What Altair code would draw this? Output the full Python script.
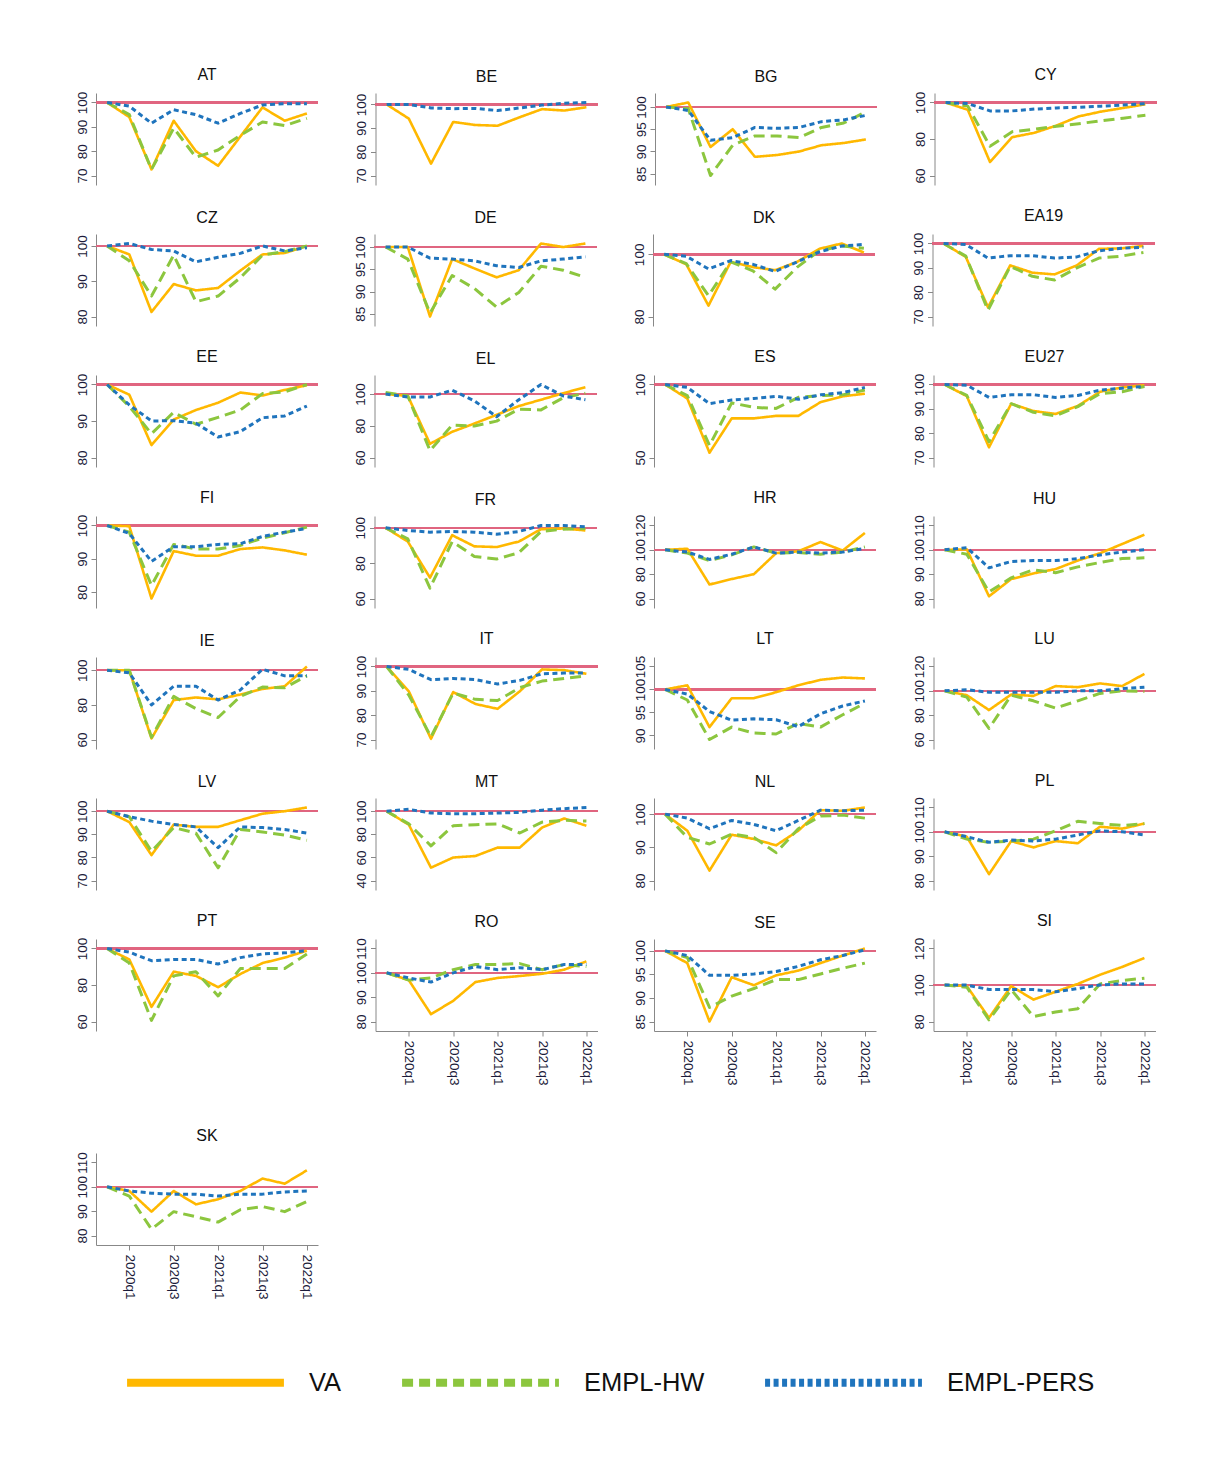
import altair as alt
import pandas as pd

QUARTERS = ["2019q4", "2020q1", "2020q2", "2020q3", "2020q4",
            "2021q1", "2021q2", "2021q3", "2021q4", "2022q1"]
XLABELS = ["2020q1", "2020q3", "2021q1", "2021q3", "2022q1"]

COUNTRIES = ["AT", "BE", "BG", "CY", "CZ", "DE", "DK", "EA19", "EE", "EL",
             "ES", "EU27", "FI", "FR", "HR", "HU", "IE", "IT", "LT", "LU",
             "LV", "MT", "NL", "PL", "PT", "RO", "SE", "SI", "SK"]

VA = {
    "AT": [100, 94, 72.5, 92.5, 80, 74, 86, 98, 92.5, 95.5],
    "BE": [100, 94, 75, 92.6, 91.3, 91, 94.6, 98, 97.4, 98.8],
    "BG": [100, 101, 91, 95, 88.8, 89.2, 90, 91.4, 91.9, 92.7],
    "CY": [100, 96, 67.4, 81, 83.4, 87.4, 92.4, 95, 97, 99],
    "CZ": [100, 97.6, 81.3, 89.2, 87.4, 88.1, 93, 97.6, 98, 100],
    "DE": [100, 100, 84.4, 97.3, 95.2, 93.2, 94.8, 100.8, 100, 100.8],
    "DK": [100, 96.8, 83.5, 97.6, 95.9, 94.9, 97.6, 101.8, 103.5, 100.6],
    "EA19": [100, 94.5, 73.8, 91, 88, 87.3, 91, 97.8, 98, 99],
    "EE": [100, 97.2, 83.4, 90.4, 93, 95, 97.8, 97, 98.5, 99.8],
    "EL": [100, 98.8, 68.6, 76.2, 81.4, 86.9, 92.4, 96.4, 100.5, 104.3],
    "ES": [100, 90.4, 53.3, 76.8, 76.8, 78.5, 78.5, 87.9, 91.9, 93.7],
    "EU27": [100, 95.2, 74.2, 92.1, 89.1, 87.9, 91.2, 97, 98.8, 99.7],
    "FI": [100, 99.8, 78, 92.3, 90.9, 90.9, 92.9, 93.4, 92.5, 91.2],
    "FR": [100, 92.2, 71.8, 95.8, 89.5, 89.1, 92.2, 99.2, 99.6, 98.5],
    "HR": [100, 100.9, 71.5, 76, 80, 97.3, 98.8, 106.4, 99.4, 113.9],
    "HU": [100, 100.2, 80.9, 88, 90.3, 92.1, 95.6, 98.6, 102.4, 106.2],
    "IE": [100, 100, 60.6, 82.8, 84.3, 83.2, 86, 89.2, 90.8, 102.2],
    "IT": [100, 89.8, 70.3, 89.5, 84.6, 82.6, 89.8, 98.8, 98.5, 97],
    "LT": [100, 100.9, 91.8, 98.1, 98.1, 99.4, 100.9, 102.1, 102.6, 102.4],
    "LU": [100, 96.4, 84.2, 97, 95.8, 103.9, 103, 106.1, 103.9, 113.9],
    "LV": [100, 95.3, 81, 94.2, 93.2, 93.2, 96.1, 98.9, 100, 101.6],
    "MT": [100, 88.3, 51.1, 59.9, 61.2, 68.5, 68.5, 85.8, 93.7, 87.4],
    "NL": [100, 95, 83, 93.8, 92.5, 90.6, 95, 101.2, 101, 102],
    "PL": [100, 98, 82.6, 96.2, 93.6, 96.2, 95.3, 102.1, 101.3, 103.4],
    "PT": [100, 94, 68, 87.3, 85, 78.8, 86, 92, 95, 98.8],
    "RO": [100, 97, 83, 88.5, 96.2, 97.9, 98.7, 99.6, 101.3, 104.7],
    "SE": [100, 97.4, 85, 94.4, 92.7, 94.8, 95.8, 97.4, 99, 100.5],
    "SI": [100, 99.4, 82, 99.4, 92, 96.3, 100.6, 105.6, 109.9, 114.8],
    "SK": [100, 98.3, 89.8, 98.3, 92.8, 94.9, 98.3, 103.4, 101.3, 106.8],
}

EMPL_HW = {
    "AT": [100, 95, 72.5, 89.5, 77.5, 80.5, 86.5, 92, 90.5, 93.5],
    "BG": [100, 99.6, 84.6, 91.4, 93.5, 93.5, 93.1, 95.4, 96.4, 98.9],
    "CY": [100, 98, 76, 84, 85.4, 87, 88.4, 90, 91.4, 93],
    "CZ": [100, 95.8, 85.8, 97.4, 84.2, 85.8, 91, 97.4, 98.4, 100],
    "DE": [100, 97.3, 85.2, 93.6, 90.7, 86.5, 89.8, 95.7, 94.8, 93.2],
    "DK": [100, 97, 86.7, 97.6, 94.7, 88.8, 95.9, 101.2, 102.7, 102],
    "EA19": [100, 94.8, 72.6, 90.6, 86.5, 85, 90, 94, 94.8, 96.3],
    "EE": [100, 94, 86.5, 92.4, 89.1, 91, 93, 97.5, 98, 100],
    "EL": [101, 98.8, 64.3, 80.5, 79.8, 82.9, 90.5, 90, 97.6, 100.5],
    "ES": [100, 92.4, 58.3, 87.4, 84.3, 83.6, 91.2, 92.4, 92.9, 96.2],
    "EU27": [100, 95.5, 76.5, 92.1, 88.6, 87.1, 90.9, 96.2, 97, 99.2],
    "FI": [100, 98, 81.9, 94.3, 92.9, 92.9, 94, 96.2, 97.8, 99.5],
    "FR": [100, 93.7, 65.9, 92.2, 83.8, 82.3, 85.9, 97.9, 99.2, 99.6],
    "HR": [100, 97.3, 91.2, 95.8, 102.4, 97.3, 97.9, 96.4, 98.2, 102.4],
    "HU": [100, 98.2, 82.7, 88.5, 91.8, 90.6, 93, 94.8, 96.4, 96.7],
    "IE": [100, 100, 61.3, 84.9, 77.8, 72.7, 84.9, 90.3, 89.9, 96.8],
    "IT": [100, 88.3, 71.1, 89.1, 86.5, 86, 91.3, 94, 95.1, 96.1],
    "LT": [100, 97.7, 89.1, 91.8, 90.5, 90.3, 92.6, 91.8, 94.5, 97],
    "LU": [100, 94.8, 69.1, 96.4, 91.8, 85.8, 91.8, 97.9, 100, 99.4],
    "LV": [100, 97.6, 82.6, 92.9, 90.5, 75.5, 92.1, 91, 89.7, 87.4],
    "MT": [100, 89, 70, 87.4, 88.3, 89, 81.1, 90.5, 92.1, 91.5],
    "NL": [100, 93, 91, 94, 93, 88.4, 95.6, 99.4, 99.7, 98.8],
    "PL": [100, 97, 95.7, 96.2, 97, 100.4, 104.3, 103.4, 102.6, 103.4],
    "PT": [100, 92, 60.6, 85, 87.3, 74, 89, 89, 89, 97],
    "RO": [100, 97, 97.9, 101.3, 103.4, 103.4, 103.8, 101.3, 103.4, 102.6],
    "SE": [100, 98.6, 88, 90.4, 92, 93.9, 93.9, 95.1, 96.3, 97.4],
    "SI": [100, 98.8, 80.9, 97.5, 82.7, 85.2, 87, 100.6, 102.5, 103.7],
    "SK": [100, 96.2, 82.6, 89.8, 87.7, 85.5, 90.6, 91.9, 89.8, 94],
}

EMPL_PERS = {
    "AT": [100, 98.5, 91.5, 97, 95, 91.5, 95.5, 99, 99.5, 99.5],
    "BE": [100, 100, 98.5, 98.2, 98.3, 97.4, 98.5, 99.7, 100.5, 100.8],
    "BG": [100, 99.2, 92.5, 93.1, 95.4, 95.2, 95.4, 96.7, 97.1, 98.1],
    "CY": [100, 99.4, 95.4, 95.4, 96.4, 97, 97.4, 98, 98.6, 99.4],
    "CZ": [100, 100.7, 99, 98.6, 95.5, 96.8, 97.9, 100, 98.6, 99.5],
    "DE": [100, 100, 97.5, 97.3, 96.9, 95.8, 95.4, 96.9, 97.3, 97.8],
    "DK": [100, 99.4, 95.3, 98, 96.8, 94.5, 97.6, 100.8, 102.7, 103.2],
    "EA19": [100, 99.6, 94, 95, 95, 94, 94.5, 97, 98, 98.5],
    "EE": [100, 94.4, 90, 90.1, 89.4, 85.6, 87.1, 90.9, 91.4, 94.1],
    "EL": [100, 98.1, 98.1, 102.4, 95.7, 85.7, 96.4, 106, 98.8, 96.4],
    "ES": [100, 98, 86.9, 89.4, 90.4, 91.9, 89.9, 92.9, 94.4, 98],
    "EU27": [100, 99.7, 94.7, 95.8, 95.8, 94.7, 95.5, 97.7, 98.5, 99.2],
    "FI": [100, 97.6, 89.2, 93.6, 93.6, 94.3, 94.5, 96.7, 98, 99.1],
    "FR": [100, 98.5, 97.5, 97.9, 97.5, 96.4, 97.9, 101.3, 101.3, 100.6],
    "HR": [100, 98.2, 92.1, 96.4, 102.4, 97.3, 98.2, 97.3, 98.2, 101.2],
    "HU": [100, 100.9, 92.6, 95.2, 95.6, 95.6, 96.4, 97.9, 99.1, 100],
    "IE": [100, 98.5, 80, 90.8, 90.8, 82.8, 88.6, 100.6, 96.8, 96.8],
    "IT": [100, 98.8, 94.6, 95.1, 94.6, 92.8, 94.3, 97, 97.3, 97.3],
    "LT": [100, 99, 95.2, 93.3, 93.6, 93.4, 91.9, 94.7, 96.4, 97.5],
    "LU": [100, 100.9, 98.8, 98.8, 98.8, 98.8, 100, 100, 101.8, 103],
    "LV": [100, 97.6, 95.7, 94.2, 93.2, 84.2, 93.2, 92.9, 92.1, 90.5],
    "MT": [100, 101.6, 98.4, 97.8, 97.8, 98.4, 99, 100.9, 102.2, 103.2],
    "NL": [100, 98.8, 95.6, 98.1, 96.9, 95, 98.1, 101.2, 101, 101.2],
    "PL": [100, 98, 95.7, 96.6, 96.2, 97, 98.7, 100.4, 100, 98.7],
    "PT": [100, 98, 93.3, 94, 94, 91.5, 95, 97, 97.6, 98.8],
    "RO": [100, 97.9, 96.2, 100, 102.6, 101.3, 102.1, 101.3, 103.4, 103.4],
    "SE": [100, 99, 94.8, 94.8, 95.1, 95.6, 96.7, 98.1, 99, 100.2],
    "SI": [100, 100, 97.5, 97.5, 97.5, 96.3, 98.1, 100, 100.6, 100.6],
    "SK": [100, 98.3, 97.4, 97, 97, 96.2, 97, 97, 97.9, 98.3],
}

YTICKS = {
    "AT": [70, 80, 90, 100], "BE": [70, 80, 90, 100], "BG": [85, 90, 95, 100],
    "CY": [60, 80, 100], "CZ": [80, 90, 100], "DE": [85, 90, 95, 100],
    "DK": [80, 100], "EA19": [70, 80, 90, 100], "EE": [80, 90, 100],
    "EL": [60, 80, 100], "ES": [50, 100], "EU27": [70, 80, 90, 100],
    "FI": [80, 90, 100], "FR": [60, 80, 100], "HR": [60, 80, 100, 120],
    "HU": [80, 90, 100, 110], "IE": [60, 80, 100], "IT": [70, 80, 90, 100],
    "LT": [90, 95, 100, 105], "LU": [60, 80, 100, 120], "LV": [70, 80, 90, 100],
    "MT": [40, 60, 80, 100], "NL": [80, 90, 100], "PL": [80, 90, 100, 110],
    "PT": [60, 80, 100], "RO": [80, 90, 100, 110], "SE": [85, 90, 95, 100],
    "SI": [80, 100, 120], "SK": [80, 90, 100, 110],
}

SERIES = ["VA", "EMPL-HW", "EMPL-PERS"]
COLORS = ["#FFB800", "#8CC63E", "#1F74BD"]
DASHES = [[1, 0], [11, 6], [5, 3.5]]
WIDTHS = [2.6, 3, 3]
RED = "#E0657F"
BOTTOM = {"RO", "SE", "SI", "SK"}
FONT = "Liberation Sans"

PW, PH = 222, 92

legend = alt.Legend(
    orient="none", legendX=27, legendY=1207, direction="horizontal", title=None,
    symbolType="stroke", symbolSize=24600, symbolStrokeWidth=8,
    labelFontSize=25.5, labelFont=FONT, labelColor="#111", labelOffset=21,
    columnPadding=44, columns=3, labelLimit=300,
)


def panel(c):
    rows = []
    for name, src in zip(SERIES, [VA, EMPL_HW, EMPL_PERS]):
        vals = src.get(c)
        if vals is None:
            continue
        for q, v in zip(QUARTERS, vals):
            rows.append({"q": q, "v": v, "series": name})
    df = pd.DataFrame(rows)
    ticks = YTICKS[c]
    lo = min(df.v.min(), min(ticks))
    hi = max(df.v.max(), max(ticks))
    pad = 0.13 * (hi - lo)
    dom = [lo - pad, hi + pad]

    if c in BOTTOM:
        xaxis = alt.Axis(values=XLABELS, labelAngle=90, title=None, grid=False,
                         labelFontSize=13.5, labelFont=FONT, labelColor="#1c1c3a",
                         tickSize=5, tickColor="#888", domainColor="#888",
                         labelPadding=4)
    else:
        xaxis = None
    yaxis = alt.Axis(values=ticks, labelAngle=270, title=None, grid=False,
                     labelFontSize=13.5, labelFont=FONT, labelColor="#1c1c3a",
                     labelOverlap=False, labelFlush=False, labelBound=False,
                     format="d", tickSize=5, tickColor="#888", domainColor="#888",
                     labelPadding=2)
    yscale = alt.Scale(domain=dom, nice=False, zero=False)
    xenc = alt.X("q:O", sort=QUARTERS,
                 scale=alt.Scale(type="point", domain=QUARTERS, padding=0.5),
                 axis=xaxis)
    yenc = alt.Y("v:Q", scale=yscale, axis=yaxis)
    base = alt.Chart(df)
    rule = base.mark_rule(color=RED, strokeWidth=1.6, opacity=0.9).encode(
        y=alt.datum(100, scale=yscale, axis=yaxis))
    layers = [rule]
    for name, w in zip(SERIES, WIDTHS):
        if name not in set(df.series):
            continue
        layers.append(
            base.transform_filter(alt.datum.series == name)
            .mark_line(strokeWidth=w, strokeCap="butt", strokeJoin="round")
            .encode(
                x=xenc, y=yenc,
                color=alt.Color("series:N", scale=alt.Scale(domain=SERIES, range=COLORS), legend=legend),
                strokeDash=alt.StrokeDash("series:N", scale=alt.Scale(domain=SERIES, range=DASHES), legend=legend),
            )
        )
    return alt.layer(*layers).properties(
        width=PW, height=PH,
        title=alt.TitleParams(c, fontSize=16, font=FONT, fontWeight="normal",
                              color="#111", offset=8, anchor="middle"),
    )


panels = [panel(c) for c in COUNTRIES]
rows = [alt.hconcat(*panels[i:i + 4], spacing=34.5) for i in range(0, 28, 4)]
top = alt.vconcat(*rows, spacing=23)
chart = alt.vconcat(top, alt.hconcat(panels[28], spacing=34.5), spacing=41).properties(
    padding={"left": 74, "top": 67, "right": 5, "bottom": 5},
    background="white",
).configure_view(stroke=None)

chart.save("out.html", embed_options={"renderer": "svg", "actions": False})
